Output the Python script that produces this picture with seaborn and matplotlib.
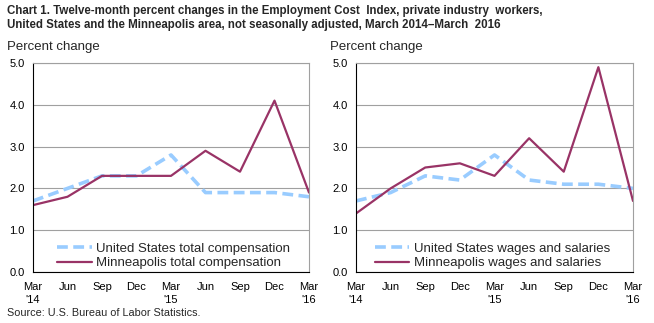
import matplotlib
matplotlib.use("Agg")
import matplotlib.pyplot as plt
import seaborn as sns
import pandas as pd

quarters = ["Mar\n'14", "Jun", "Sep", "Dec", "Mar\n'15", "Jun", "Sep", "Dec", "Mar\n'16"]
us_total = [1.7, 2.0, 2.3, 2.3, 2.8, 1.9, 1.9, 1.9, 1.8]
mpls_total = [1.6, 1.8, 2.3, 2.3, 2.3, 2.9, 2.4, 4.1, 1.9]
us_wages = [1.7, 1.9, 2.3, 2.2, 2.8, 2.2, 2.1, 2.1, 2.0]
mpls_wages = [1.4, 2.0, 2.5, 2.6, 2.3, 3.2, 2.4, 4.9, 1.7]
yticks = [0.0, 1.0, 2.0, 3.0, 4.0, 5.0]

sns.set_style("white")
plt.rcParams['font.family'] = ['Liberation Sans', 'DejaVu Sans']

fig = plt.figure(figsize=(6.54, 3.23), dpi=100)
W, H = 654, 323

def px_axes(x0, x1, ytop, ybot):
    return fig.add_axes([x0 / W, (H - ybot) / H, (x1 - x0) / W, (ybot - ytop) / H])

ax1 = px_axes(33, 309, 63, 272)
ax2 = px_axes(356, 633, 63, 272)

US_COLOR = "#99CCFF"
MP_COLOR = "#993366"

panels = [
    (ax1, us_total, mpls_total, "United States total compensation", "Minneapolis total compensation", 7, 0.069),
    (ax2, us_wages, mpls_wages, "United States wages and salaries", "Minneapolis wages and salaries", 330, 0.05),
]

for ax, us, mp, us_lab, mp_lab, lx, legx in panels:
    x = list(range(len(quarters)))
    df = pd.DataFrame({"x": x + x, "v": us + mp,
                       "s": [us_lab] * len(x) + [mp_lab] * len(x)})
    sns.lineplot(data=df, x="x", y="v", hue="s", style="s",
                 palette={us_lab: US_COLOR, mp_lab: MP_COLOR},
                 dashes={us_lab: (3, 1.5), mp_lab: ""},
                 ax=ax, legend=False)
    ax.lines[0].set_linewidth(2.6)
    ax.lines[1].set_linewidth(1.6)
    ax.set_xlim(0, len(quarters) - 1)
    ax.set_ylim(0, 5)
    ax.set_yticks(yticks)
    ax.set_yticklabels([f"{t:.1f}" for t in yticks], fontsize=8)
    ax.set_xticks(x)
    ax.set_xticklabels(quarters, fontsize=8, linespacing=1.45, va="top")
    ax.set_xlabel("")
    ax.set_ylabel("")
    ax.yaxis.grid(True, color="#A0A0A0", linewidth=0.8)
    ax.set_axisbelow(True)
    for s in ["top", "right"]:
        ax.spines[s].set_color("#A0A0A0")
        ax.spines[s].set_linewidth(0.8)
    for s in ["left", "bottom"]:
        ax.spines[s].set_color("black")
        ax.spines[s].set_linewidth(0.8)
    ax.tick_params(axis="x", direction="out", length=5, width=0.8, color="black", pad=2)
    ax.tick_params(axis="y", length=0, pad=6)
    ax.tick_params(axis="both", colors="black", labelcolor="black")
    handles = [plt.Line2D([], [], color=US_COLOR, lw=2.6, ls=(0, (3, 1.5))),
               plt.Line2D([], [], color=MP_COLOR, lw=1.6)]
    ax.legend(handles, [us_lab, mp_lab], loc="lower left", bbox_to_anchor=(legx, -0.012),
              frameon=False, fontsize=9.5, handlelength=2.6, handletextpad=0.35,
              labelspacing=0.15, borderaxespad=0)
    fig.text(lx / W, 1 - 47 / H, "Percent change", fontsize=9.5, va="center", ha="left")

fig.text(7 / W, 1 - 18 / H,
         "Chart 1. Twelve-month percent changes in the Employment Cost  Index, private industry  workers,\n"
         "United States and the Minneapolis area, not seasonally adjusted, March 2014\u2013March  2016",
         fontsize=8.3, fontweight="bold", va="center", ha="left", linespacing=1.3)
fig.text(7 / W, 1 - 313 / H, "Source: U.S. Bureau of Labor Statistics.", fontsize=7.8,
         va="center", ha="left")

fig.savefig("out.png", dpi=100)
